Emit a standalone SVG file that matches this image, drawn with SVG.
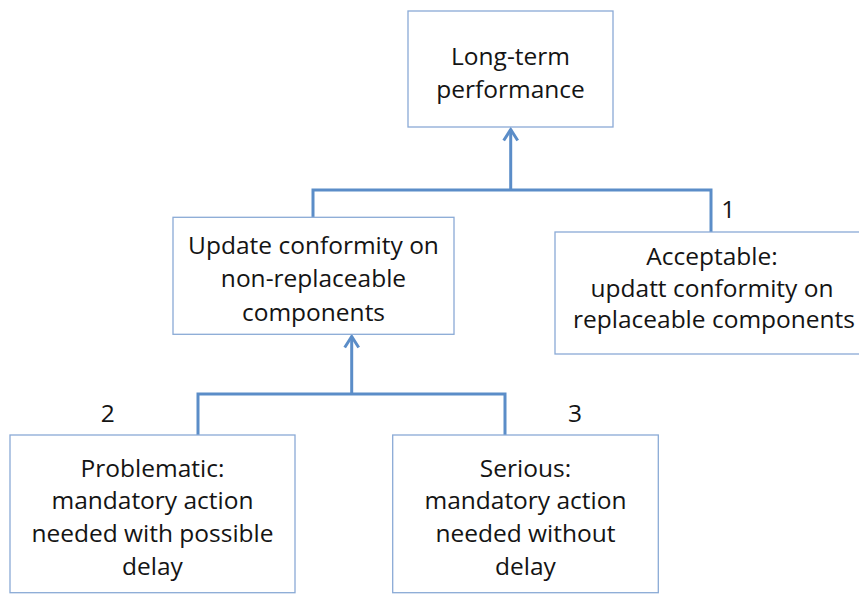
<svg xmlns="http://www.w3.org/2000/svg" width="859" height="595" viewBox="0 0 859 595">
  <style>
    .box { fill: #ffffff; stroke: #8aaad6; stroke-width: 1.3; }
    .lbl { font-family: "Open Sans", "Liberation Sans", sans-serif; font-size: 24.5px; fill: #141414; text-anchor: middle; }
    .conn { fill: none; stroke: #5b8dc8; stroke-width: 3; stroke-linejoin: miter; }
  </style>
  <defs>
    <marker id="arr" markerUnits="userSpaceOnUse" markerWidth="20" markerHeight="20" viewBox="-14 -10 16 20" refX="0" refY="0" orient="auto">
      <path d="M -11,-7 L 0,0 L -11,7" fill="none" stroke="#5b8dc8" stroke-width="3"/>
    </marker>
  </defs>
  <rect width="859" height="595" fill="#ffffff"/>

  <g id="connectors">
    <path class="conn" d="M 313 217 L 313 190 L 711 190 L 711 232"/>
    <path class="conn" d="M 510.7 190 L 510.7 129.5" marker-end="url(#arr)"/>
    <path class="conn" d="M 198 435 L 198 394 L 505 394 L 505 435"/>
    <path class="conn" d="M 351.7 394 L 351.7 336.5" marker-end="url(#arr)"/>
  </g>

  <g id="node-longterm">
    <rect class="box" x="408" y="11" width="205" height="116"/>
    <text class="lbl" x="510.5" y="65">Long-term</text>
    <text class="lbl" x="510.5" y="97.5">performance</text>
  </g>

  <g id="node-update">
    <rect class="box" x="173" y="217.3" width="281" height="117"/>
    <text class="lbl" x="313.5" y="254">Update conformity on</text>
    <text class="lbl" x="313.5" y="287.3">non-replaceable</text>
    <text class="lbl" x="313.5" y="320.7">components</text>
  </g>

  <g id="node-acceptable">
    <rect class="box" x="555" y="232" width="310" height="122"/>
    <text class="lbl" x="728.3" y="218.3">1</text>
    <text class="lbl" x="712" y="265">Acceptable:</text>
    <text class="lbl" x="712" y="296.7">updatt conformity on</text>
    <text class="lbl" x="714" y="328.3">replaceable components</text>
  </g>

  <g id="node-problematic">
    <rect class="box" x="10" y="435" width="285" height="157.7"/>
    <text class="lbl" x="107.7" y="421.7">2</text>
    <text class="lbl" x="152.5" y="476.7">Problematic:</text>
    <text class="lbl" x="152.5" y="509.3">mandatory action</text>
    <text class="lbl" x="152.5" y="542.3">needed with possible</text>
    <text class="lbl" x="152.5" y="574.5">delay</text>
  </g>

  <g id="node-serious">
    <rect class="box" x="392.7" y="435" width="265.6" height="157.7"/>
    <text class="lbl" x="575" y="421.7">3</text>
    <text class="lbl" x="525.5" y="476.7">Serious:</text>
    <text class="lbl" x="525.5" y="509.3">mandatory action</text>
    <text class="lbl" x="525.5" y="542.3">needed without</text>
    <text class="lbl" x="525.5" y="574.5">delay</text>
  </g>
</svg>
